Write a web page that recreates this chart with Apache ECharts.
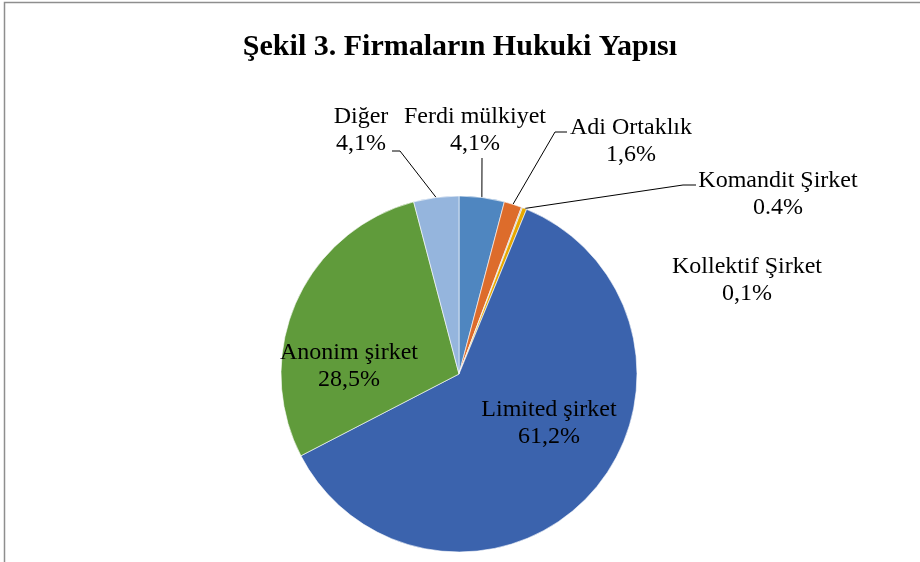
<!DOCTYPE html>
<html>
<head>
<meta charset="utf-8">
<script src="https://cdn.jsdelivr.net/npm/echarts@6/dist/echarts.min.js"></script>
<style>
    html, body { margin: 0; padding: 0; background: #fff; }
    #chart { width: 920px; height: 562px; }
</style>
</head>
<body>
<div id="chart"></div>
<script>
// Şekil 3 - firmaların hukuki yapısı (pasta grafik)
var categories = ['Ferdi mülkiyet', 'Adi Ortaklık', 'Kollektif Şirket', 'Komandit Şirket', 'Limited şirket', 'Anonim şirket', 'Diğer'];
var values = [4.1, 1.6, 0.1, 0.4, 61.2, 28.5, 4.1];
var valueLabels = ['4,1%', '1,6%', '0,1%', '0.4%', '61,2%', '28,5%', '4,1%'];
var colors = ['#4f86c0', '#dd6c2b', '#a5a5a5', '#e6a800', '#3b63ad', '#609b3b', '#95b5dd'];

var cx = 459, cy = 374, r = 178;

// etiket yerleri (metin bloğunun ortası) ve kılavuz çizgisinin kırılma noktaları
var labelPos = [
    { x: 475, y: 130, line: [[482, 158]] },
    { x: 631, y: 141, line: [[555, 132], [567, 132]] },
    { x: 747, y: 280, line: null },
    { x: 778, y: 194, line: [[683, 185], [696, 185]] },
    { x: 549, y: 423, line: null },
    { x: 349, y: 366, line: null },
    { x: 361, y: 130, line: [[400, 151], [392, 151]] }
];

var pieData = [];
for (var i = 0; i < categories.length; i++) {
    var inside = (i === 4 || i === 5);
    pieData.push({
        name: categories[i],
        value: values[i],
        itemStyle: { color: colors[i] },
        label: { position: inside ? 'inside' : 'outside' },
        labelLine: { show: labelPos[i].line !== null }
    });
}

var chart = echarts.init(document.getElementById('chart'));
var option = {
    backgroundColor: '#fff',
    animation: false,
    title: {
        text: 'Şekil 3. Firmaların Hukuki Yapısı',
        left: 'center',
        top: 27,
        textStyle: {
            fontFamily: 'Liberation Serif',
            fontWeight: 'bold',
            fontSize: 30,
            color: '#000'
        }
    },
    graphic: [{
        type: 'rect',
        shape: { x: 4.5, y: 2.5, width: 1000, height: 1000 },
        style: { fill: 'none', stroke: '#8e8e8e', lineWidth: 1.5 },
        silent: true
    }],
    series: [{
        type: 'pie',
        center: [cx, cy],
        radius: r,
        startAngle: 90,
        clockwise: true,
        itemStyle: { borderColor: '#fff', borderWidth: 0.6 },
        label: {
            fontFamily: 'Liberation Serif',
            fontSize: 24,
            lineHeight: 27,
            color: '#000',
            align: 'center',
            formatter: function (p) {
                return p.name + '\n' + valueLabels[p.dataIndex];
            }
        },
        labelLine: {
            lineStyle: { color: '#000', width: 1 }
        },
        labelLayout: function (params) {
            var pos = labelPos[params.dataIndex];
            var out = {
                x: pos.x,
                y: pos.y,
                align: 'center',
                verticalAlign: 'middle'
            };
            if (pos.line && params.labelLinePoints) {
                var pts = [params.labelLinePoints[0].slice()];
                for (var k = 0; k < pos.line.length; k++) {
                    pts.push(pos.line[k]);
                }
                if (pts.length === 2) pts.push(pos.line[0]);
                out.labelLinePoints = pts;
            }
            return out;
        },
        data: pieData
    }]
};
chart.setOption(option);
</script>
</body>
</html>
